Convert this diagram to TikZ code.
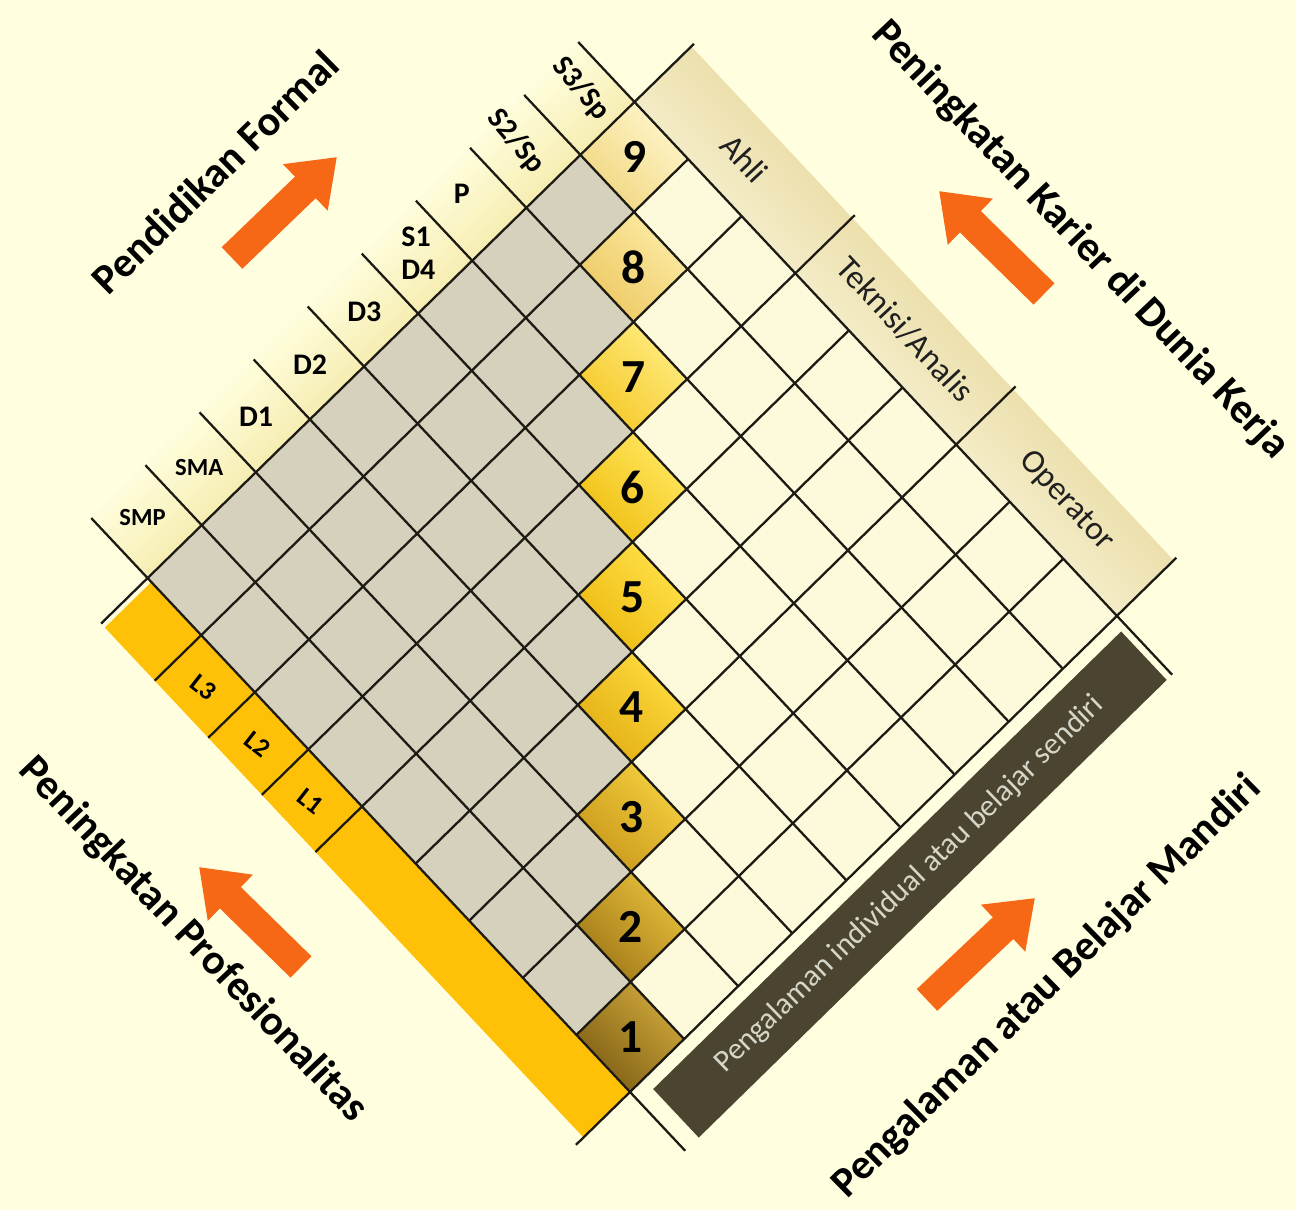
\documentclass[tikz,border=0pt]{standalone}
\usepackage{fontspec}
\setmainfont{Carlito}
\usetikzlibrary{arrows.meta}

\definecolor{bgyellow}{RGB}{255,255,224}
\definecolor{cellgray}{RGB}{214,209,189}
\definecolor{cellcream}{RGB}{252,250,219}
\definecolor{gridink}{RGB}{28,26,18}
\definecolor{profband}{RGB}{255,192,8}
\definecolor{darkband}{RGB}{74,68,49}
\definecolor{bandtext}{RGB}{214,214,200}
\definecolor{arroworange}{RGB}{246,104,22}
\definecolor{edustrip}{RGB}{247,238,180}
\definecolor{jobinner}{RGB}{244,236,200}
\definecolor{jobouter}{RGB}{236,224,174}
\definecolor{lv1t}{HTML}{CFA83A}\definecolor{lv1b}{HTML}{7E5E14}
\definecolor{lv2t}{HTML}{E6BE3A}\definecolor{lv2b}{HTML}{A07818}
\definecolor{lv3t}{HTML}{F5D040}\definecolor{lv3b}{HTML}{C8981A}
\definecolor{lv4t}{HTML}{FFDC40}\definecolor{lv4b}{HTML}{E2AE12}
\definecolor{lv5t}{HTML}{FFE24A}\definecolor{lv5b}{HTML}{EEBA10}
\definecolor{lv6t}{HTML}{FFE860}\definecolor{lv6b}{HTML}{F0BE10}
\definecolor{lv7t}{HTML}{FFEC80}\definecolor{lv7b}{HTML}{F5C828}
\definecolor{lv8t}{HTML}{FCEBA6}\definecolor{lv8b}{HTML}{EDC860}
\definecolor{lv9t}{HTML}{FFF6CC}\definecolor{lv9b}{HTML}{F0D680}

\tikzset{
  gridln/.style={draw=gridink, line width=1.3pt},
  titletext/.style={font=\bfseries\fontsize{24}{27}\selectfont},
  edutext/.style={font=\bfseries\fontsize{17}{19}\selectfont, align=left},
  smalledu/.style={font=\bfseries\fontsize{14}{16}\selectfont},
  jobtext/.style={font=\fontsize{19}{21}\selectfont, text=black!88, rotate=-47},
  proftext/.style={font=\bfseries\fontsize{15}{17}\selectfont, rotate=-38},
  lvtext/.style={font=\bfseries\fontsize{27}{29}\selectfont},
  darktext/.style={font=\fontsize{17.5}{19}\selectfont, text=bandtext},
  bigarrow/.style={draw=arroworange, line width=17pt, -{Triangle[length=25pt,width=35pt]}},
}

\begin{document}
\begin{tikzpicture}
  \fill[bgyellow] (0,0) rectangle (25.92,24.2);
  \useasboundingbox (0,0) rectangle (25.92,24.2);

  \begin{scope}[shift={(12.6,2.36)}, x={(-1.072cm,1.142cm)}, y={(1.082cm,1.058cm)}]
    \foreach \s in {0,...,11}{
      \pgfmathtruncatemacro{\pct}{100-8*\s}
      \fill[edustrip!\pct!bgyellow] (9+0.0875*\s,0) -- (9.09+0.0875*\s,0) -- (9.09+0.0875*\s,9) -- (9+0.0875*\s,9) -- cycle;
      \fill[jobouter!\pct!jobinner] (0,10.05-0.0875*\s) -- (0,9.96-0.0875*\s) -- (9,9.96-0.0875*\s) -- (9,10.05-0.0875*\s) -- cycle;
    }

    \fill[cellcream] (0,0) -- (9,0) -- (9,9) -- (0,9) -- cycle;
    \foreach \i in {1,...,8}{
      \pgfmathtruncatemacro{\jmax}{\i-1}
      \foreach \j in {0,...,\jmax}
        \fill[cellgray] (\i,\j) -- ++(1,0) -- ++(0,1) -- ++(-1,0) -- cycle;
    }
    \foreach \k in {1,...,9}{
      \pgfmathtruncatemacro{\i}{\k-1}
      \shade[top color=lv\k t, bottom color=lv\k b, shading angle=-45] (\i,\i) -- ++(1,0) -- ++(0,1) -- ++(-1,0) -- cycle;
    }

    \fill[profband] (0,0) -- (8.93,0) -- (8.93,-0.86) -- (0,-0.86) -- cycle;
    \fill[darkband] (-0.18,0.25) -- (-0.18,8.9) -- (-1.03,8.9) -- (-1.03,0.25) -- cycle;

    \foreach \k in {0,...,9}{
      \draw[gridln] (\k,0) -- (\k,9);
      \draw[gridln] (0,\k) -- (10.05,\k);
    }
    \foreach \k in {0,3,6,9} \draw[gridln] (\k,9) -- (\k,10.1);
    \foreach \k in {5,6,7,8,9} \draw[gridln] (\k,0) -- (\k,-0.86);
    \draw[gridln] (0,0) -- (0,-1);
    \foreach \k in {0,9} \draw[gridln] (0,\k) -- (-1.03,\k);

    \foreach \k in {1,...,9}{
      \pgfmathtruncatemacro{\i}{\k-1}
      \node[lvtext] (lv\k) at (\i+0.5,\i+0.5) {\k};
    }

    \node[smalledu] (smp) at (9.6,0.5) {SMP};
    \node[smalledu] (sma) at (9.55,1.5) {SMA};
    \node[edutext] (d1) at (9.5,2.5) {D1};
    \node[edutext] (d2) at (9.5,3.5) {D2};
    \node[edutext] (d3) at (9.5,4.5) {D3};
    \node[edutext] (s1d4) at (9.55,5.55) {S1\\D4};
    \node[edutext] (prof) at (9.7,6.5) {P};
    \node[edutext, rotate=-50] (s2) at (9.7,7.5) {S2/Sp};
    \node[edutext, rotate=-50] (s3) at (9.6,8.6) {S3/Sp};

    \node[jobtext] (ahli) at (7.5,9.55) {Ahli};
    \node[jobtext] (teknisi) at (4.5,9.55) {Teknisi/Analis};
    \node[jobtext] (operator) at (1.5,9.55) {Operator};

    \node[proftext] (l3) at (7.5,-0.45) {L3};
    \node[proftext] (l2) at (6.5,-0.45) {L2};
    \node[proftext] (l1) at (5.5,-0.45) {L1};

    \node[darktext, rotate=44] (mandirinote) at (-0.6,4.57) {Pengalaman individual atau belajar sendiri};
  \end{scope}

  \node[titletext, rotate=44.5] (formal) at (4.3,20.76) {Pendidikan Formal};
  \node[titletext, rotate=-46.5] (karier) at (21.6,19.4) {Peningkatan Karier di Dunia Kerja};
  \node[titletext, rotate=-46.5] (profesi) at (3.86,5.4) {Peningkatan Profesionalitas};
  \node[titletext, rotate=44.5] (mandiri) at (20.94,4.46) {Pengalaman atau Belajar Mandiri};

  \coordinate (formal tail) at (4.64,19.04);
  \coordinate (formal tip) at (6.74,21.06);
  \coordinate (karier tail) at (20.88,18.32);
  \coordinate (karier tip) at (18.78,20.38);
  \coordinate (profesi tail) at (6.02,4.86);
  \coordinate (profesi tip) at (3.98,6.86);
  \coordinate (mandiri tail) at (18.54,4.2);
  \coordinate (mandiri tip) at (20.7,6.24);
  \draw[bigarrow] (formal tail) -- (formal tip);
  \draw[bigarrow] (karier tail) -- (karier tip);
  \draw[bigarrow] (profesi tail) -- (profesi tip);
  \draw[bigarrow] (mandiri tail) -- (mandiri tip);
\end{tikzpicture}
\end{document}
